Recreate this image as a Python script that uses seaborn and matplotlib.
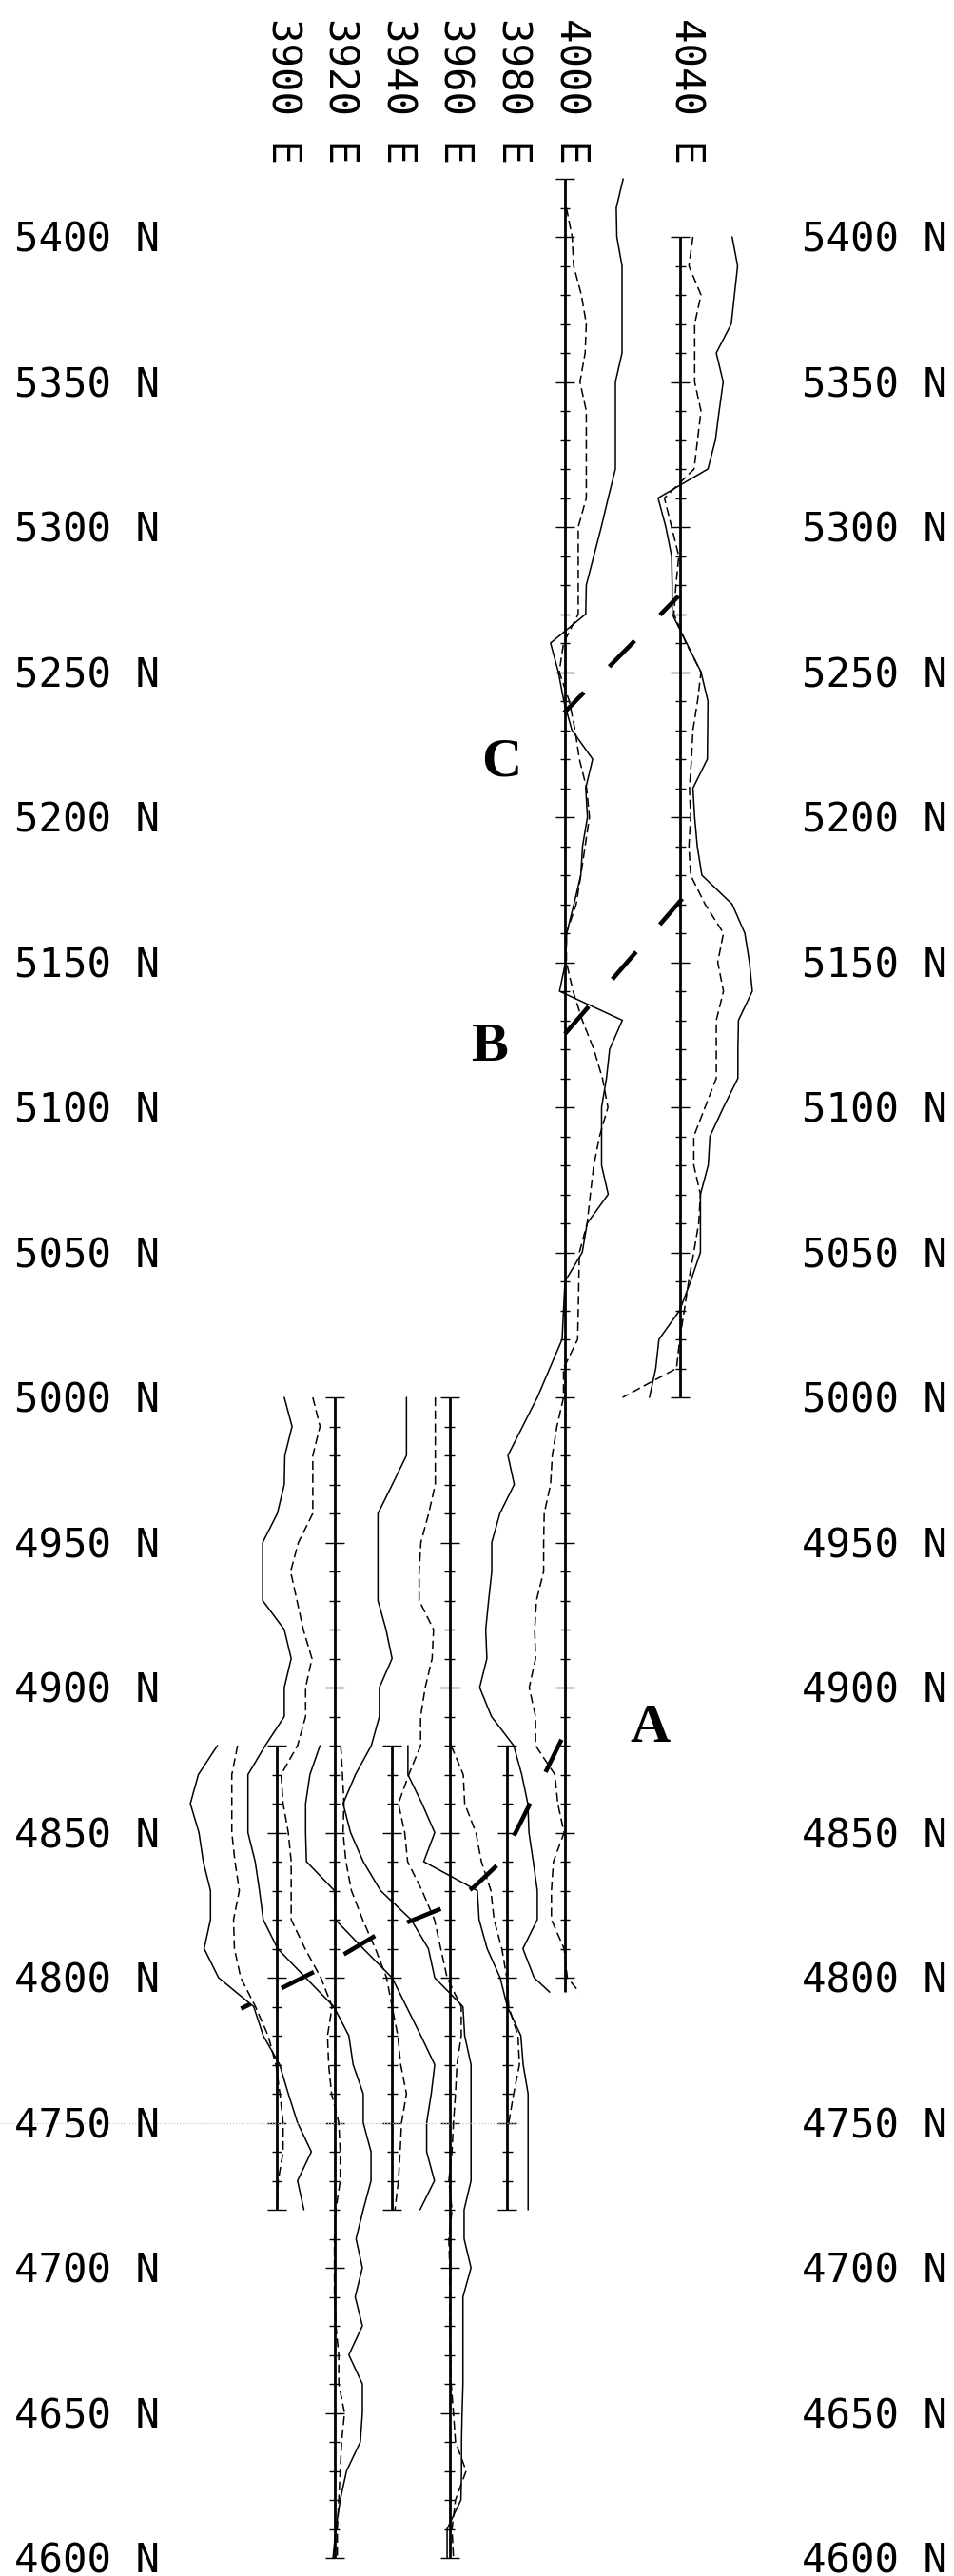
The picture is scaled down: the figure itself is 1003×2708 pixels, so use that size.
import numpy as np
import matplotlib
matplotlib.use("Agg")
import matplotlib.pyplot as plt
import seaborn as sns

# survey lines: easting and north extent
line_e = [3900, 3920, 3940, 3960, 3980, 4000, 4040]
line_start = [4720, 4600, 4720, 4600, 4720, 4795, 5000]
line_end = [4880, 5000, 4880, 5000, 4880, 5420, 5400]

# stations (north)
stn_short = list(range(4880, 4719, -10))          # 3900, 3940, 3980
stn_long = list(range(5000, 4599, -10))           # 3920, 3960
stn_4000_s = list(range(5420, 4799, -10)) + [4795]
stn_4000_d = list(range(5410, 4799, -10)) + [4795]
stn_4040 = list(range(5400, 4999, -10))

# profile offsets (plotted in easting units from the line)
solid_3900 = [-20.6, -27.2, -30, -27, -25.5, -23, -23, -25.2, -20.2, -8, -4.7, 1, 4, 7.2, 12, 7.2, 9.4]
dash_3900 = [-13.6, -15.6, -15.6, -15.6, -14.5, -13, -15, -14.7, -12.5, -7.4, -3, -0.3, 1.1, 2.2, 2.2, 0.5, 0]

solid_3920 = [-17.4, -14.7, -17.2, -17.4, -19.8, -24.9, -24.9, -24.9, -17.4, -15,
              -17.4, -17.4, -24, -30, -30, -30, -27.5, -26, -24.7, -19.7,
              -10, -0.2, 5, 6.5, 10, 10, 12.7, 12.7, 10, 7.5,
              9.7, 7.2, 9.7, 5, 9.7, 9.7, 9, 4.2, 2, 0.5, -0.5]
dash_3920 = [-7.5, -5, -7.5, -7.5, -7.5, -12.5, -15.2, -13, -10.8, -7.8,
             -10, -10, -12.8, -18.5, -17.8, -16, -15, -15, -15, -10.2,
             -4.7, -0.8, -2.4, -2, -1, 1.5, 2, 2, 0.5, 0,
             0, 0, 0.5, 1.5, 1.5, 3.5, 2.5, 2, 1.5, 1, 1]

solid_3940 = [-25, -28.5, -30, -30, -29.7, -20, -19.7, -10, 0, 5, 10, 14.8, 13.6, 12, 12, 14.7, 9.7]
dash_3940 = [-17.8, -17.2, -16.7, -17, -16, -14.1, -10.2, -5.8, -1.9, 0, 2, 3, 5, 3.3, 2.8, 2.2, 1]

solid_3960 = [-15, -15, -15, -19.9, -24.9, -24.9, -24.9, -24.9, -22.1, -20,
              -24.4, -24.4, -27.2, -32.7, -37, -34.4, -30, -24, -13.4, -7.4,
              -5.2, 4.6, 5.2, 7.4, 7.4, 7.4, 7.4, 7.4, 5, 5,
              7.4, 4.6, 4.6, 4.6, 4.6, 4.3, 4.1, 4.1, 3.9, -0.9, -0.9]
dash_3960 = [-5, -5, -5, -5, -7.3, -10, -10.6, -10.6, -5.6, -6.1,
             -8.5, -10.1, -10.1, -14.2, -17.8, -15.6, -14.6, -9.6, -5.3, -3.1,
             -0.9, 4, 4, 2.5, 2, 1.3, 0.8, -0.3, 0.8, -0.3,
             0, 0, 0, 0.3, 0.5, 1.3, 2, 5.7, 2, 0.8, 1.3]

solid_3980 = [-34.5, -34.5, -29.6, -25.2, -29, -10.4, -9.8, -7, -2.5, 0, 4.7, 5.5, 7.2, 7.2, 7.2, 7.2, 7.2]
dash_3980 = [-19.5, -15.3, -14.8, -10.9, -9, -5.7, -4.6, -1.9, -0.2, 0.5, 3.7, 4.2, 2.2, 0.5]

solid_4000 = [20.2, 17.8, 18, 19.8, 19.8, 19.8, 19.8, 17.5, 17.5, 17.5,
              17.5, 15, 12.6, 10, 7.4, 7.2, -5, -2.3, -0.4, 2.4,
              9.6, 7.2, 7.8, 6.1, 5.5, 3.1, 0.6, 0.2, -1.9, 19.9,
              15.5, 14.4, 12.7, 12.7, 12.7, 15, 7.7, 6, 0, -0.5,
              -1, -5.3, -9.6, -14.7, -19.8, -17.6, -22.6, -25.4, -25.4, -26.5,
              -27.5, -27.1, -29.6, -25.5, -17.8, -15, -12.9, -12.5, -11, -9.6,
              -9.6, -14.6, -10.7, -5.3]
dash_4000 = [0.5, 2.5, 3, 5.7, 7.4, 7, 5.2, 7.4, 7.4, 7.4,
             7.4, 4.6, 4.6, 4.6, 4.6, -0.5, -2, 1.5, 3.5, 5,
             7.5, 8.5, 7, 5.5, 3.9, 0.5, 0.5, 2.8, 6, 10,
             13, 14.9, 12, 10, 8.8, 7.7, 5, 4.8, 4.6, 4.4,
             -0.5, -0.5, -2.8, -4.4, -5, -7.2, -7.4, -7.4, -9.9, -10.5,
             -10.2, -12.4, -10.2, -10.2, -3.5, -2.5, -0.3, -4, -4.7, -4.7,
             -0.3, 0.8, 5]

solid_4040 = [18, 19.9, 18.8, 17.7, 12.5, 14.9, 13.5, 12.2, 9.6, -7.7,
              -5, -3, -2.8, -2.8, 2.2, 7.2, 9.6, 9.5, 9.4, 4.4,
              5, 5.9, 7.5, 18, 22.4, 24, 25, 20.2, 20, 20,
              15, 10.3, 9.7, 7, 7, 7, 3.6, -0.2, -7.4, -8.5, -10.7]
dash_4040 = [4.4, 3, 7.2, 5, 5, 5, 7.2, 6, 4.8, -5.5,
             -3, -0.5, -1.5, -2.2, 2, 7.2, 6, 4.4, 3.9, 3.2,
             3.6, 3, 3.6, 8.6, 15, 13, 15, 12.5, 12.5, 12.5,
             8.6, 4.7, 4.7, 7, 6.4, 4.7, 2.9, 1.4, -0.2, -1.3, -20]

# interpreted conductor axes
axis_a_e = [3887.6, 3913.7, 3935.1, 3958.1, 3968.5, 3977.8, 3988.8, 4000.0]
axis_a_n = [4789.3, 4802.4, 4815.0, 4824.2, 4831.3, 4840.0, 4861.8, 4884.5]
axis_b_e = [4000.0, 4040.7]
axis_b_n = [5125.3, 5171.9]
axis_c_e = [3999.7, 4039.4]
axis_c_n = [5236.0, 5276.2]

letters = ["C", "B", "A"]
letter_e = [3978.0, 3973.7, 4029.5]
letter_n = [5219.0, 5120.5, 4886.0]

north_labels = list(range(5400, 4599, -50))

sns.set_theme(style="white")
plt.rcParams["font.family"] = ["DejaVu Sans Mono", "DejaVu Sans"]
plt.rcParams["text.color"] = "black"

fig = plt.figure(figsize=(10.04, 27.08), dpi=100)
ax = fig.add_axes([0, 0, 1, 1])

# base lines with station ticks
for e, n0, n1 in zip(line_e, line_start, line_end):
    ax.vlines(e, n0, n1, color="black", lw=2.0)
    ticks = np.arange(np.ceil(n0 / 10) * 10, n1 + 1, 10)
    major = (ticks % 50 == 0) | (ticks == ticks.min()) | (ticks == ticks.max())
    hw = np.where(major, 3.3, 1.8)
    ax.hlines(ticks, e - hw, e + hw, color="black", lw=1.0)

profiles = [
    (3900, stn_short, solid_3900, stn_short, dash_3900),
    (3920, stn_long, solid_3920, stn_long, dash_3920),
    (3940, stn_short, solid_3940, stn_short, dash_3940),
    (3960, stn_long, solid_3960, stn_long, dash_3960),
    (3980, stn_short, solid_3980, stn_short, dash_3980),
    (4000, stn_4000_s, solid_4000, stn_4000_d, dash_4000),
    (4040, stn_4040, solid_4040, stn_4040, dash_4040),
]
for e, ns, s, nd, d in profiles:
    sns.lineplot(x=e + np.array(s), y=ns[:len(s)], sort=False, estimator=None,
                 color="black", lw=1.1, ax=ax)
    sns.lineplot(x=e + np.array(d), y=nd[:len(d)], sort=False, estimator=None,
                 color="black", lw=1.1, linestyle=(0, (6, 3)), ax=ax)

# conductor axes, heavy long dashes
ax.plot(axis_a_e, axis_a_n, color="black", lw=3.3, linestyle=(5.9, (8.3, 8.0)))
ax.plot(axis_b_e, axis_b_n, color="black", lw=3.3, linestyle=(0, (8.3, 8.3)))
ax.plot(axis_c_e, axis_c_n, color="black", lw=3.3, linestyle=(1.8, (8.3, 8.3)))

# faint scan line
ax.plot([3804, 3984], [4750, 4750], color="0.75", lw=0.8, linestyle=":")

for t, x, y in zip(letters, letter_e, letter_n):
    ax.text(x, y, t, ha="center", va="center", fontsize=42, color="black",
            family="Liberation Serif", fontweight="bold")

for n in north_labels:
    ax.text(3809, n - 5.1, f"{n} N", ha="left", va="baseline", fontsize=30.5, color="black")
    ax.text(4082.2, n - 5.1, f"{n} N", ha="left", va="baseline", fontsize=30.5, color="black")

for e in line_e:
    ax.text(e + 2, 5475.3, f"{e} E", ha="center", va="top", rotation=270,
            fontsize=30.5, color="black")

ax.set_xlim(3900 - 291 / 3.03, 3900 + (1004 - 291) / 3.03)
ax.set_ylim(5400 - (2708 - 249) / 3.05, 5400 + 249 / 3.05)
ax.axis("off")

fig.savefig("out.png", dpi=100)
